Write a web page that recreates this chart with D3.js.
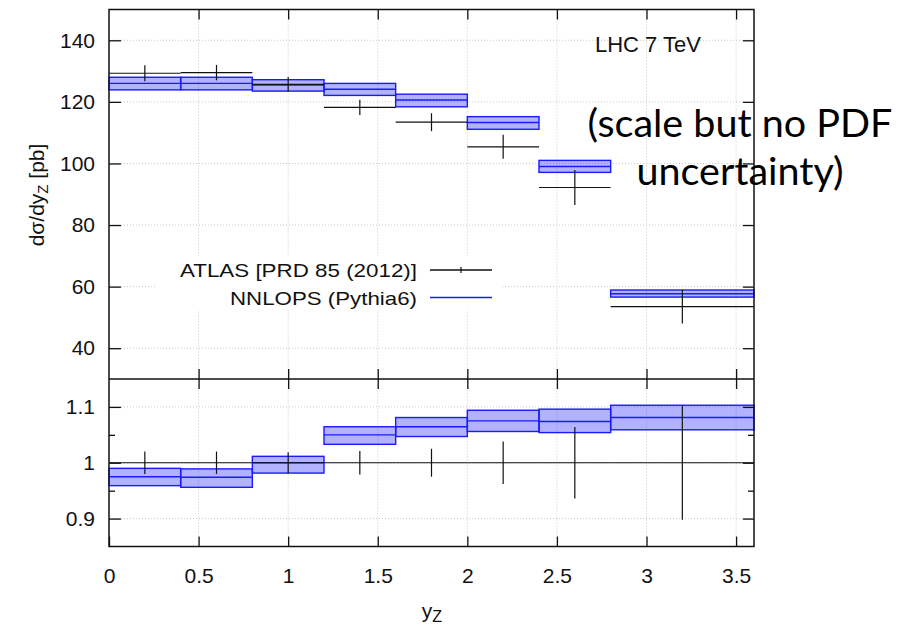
<!DOCTYPE html>
<html lang="en">
<head>
    <meta charset="UTF-8">
    <title>Z rapidity - NNLOPS vs ATLAS</title>
    <style>
        body {
            margin: 0;
            padding: 0;
            background: #fff;
        }
        .axis text {
            font-family: 'Liberation Sans', Arial, sans-serif;
            font-size: 21px;
            fill: #111;
        }
        .axis line {
            stroke: #111;
            stroke-width: 1.3;
        }
        .axis path {
            display: none;
        }
    </style>
</head>
<body>
    <div id="chart"></div>
    <script src="https://d3js.org/d3.v7.min.js"></script>
    <script>
        // bins in y_Z
        var binEdges = [0, 0.4, 0.8, 1.2, 1.6, 2.0, 2.4, 2.8, 3.6];
        var binCenters = [0.2, 0.6, 1.0, 1.4, 1.8, 2.2, 2.6, 3.2];

        // ATLAS data [pb]
        var atlasVal = [129.3, 129.5, 125.7, 118.2, 113.4, 105.4, 92.2, 53.5];
        var atlasErr = [2.6, 2.5, 2.4, 2.5, 2.9, 3.9, 5.7, 5.5];

        // NNLOPS (Pythia6) band [pb]
        var nnlopsCentral = [126.0, 126.0, 125.5, 124.1, 120.6, 113.3, 99.0, 57.7];
        var nnlopsLo = [123.9, 123.9, 123.5, 122.1, 118.4, 111.1, 97.1, 56.6];
        var nnlopsHi = [128.0, 128.0, 127.2, 126.0, 122.5, 115.2, 101.0, 58.9];

        // ratio to data
        var ratioCentral = [0.975, 0.974, 1.0, 1.050, 1.0645, 1.075, 1.074, 1.081];
        var ratioLo = [0.959, 0.956, 0.9815, 1.033, 1.047, 1.056, 1.054, 1.059];
        var ratioHi = [0.990, 0.989, 1.0115, 1.0645, 1.081, 1.094, 1.096, 1.103];
        var ratioErr = [0.020, 0.020, 0.019, 0.021, 0.025, 0.038, 0.064, 0.102];

        // tick values
        var xTicks = [0, 0.5, 1, 1.5, 2, 2.5, 3, 3.5];
        var yTopTicks = [40, 60, 80, 100, 120, 140];
        var yBotTicks = [0.9, 1, 1.1];
        var yBotMinor = [0.95, 1.05];

        var W = 924, H = 632;
        var left = 109, right = 754,
            top1 = 9.5, split = 379, bottom2 = 546.5;

        var font = "'Liberation Sans', Arial, sans-serif";
        var blue = "#1a1aff";

        var svg = d3.select("#chart")
            .append("svg")
            .attr("width", W)
            .attr("height", H);

        var x = d3.scaleLinear().domain([0, 3.6]).range([left, right]);
        var yTop = d3.scaleLinear().domain([30, 150]).range([split, top1]);
        var yBot = d3.scaleLinear().domain([0.85, 1.15]).range([bottom2, split]);

        // build bin rows
        var bins = binCenters.map(function(c, i) {
            return {
                x0: binEdges[i], x1: binEdges[i + 1], xc: c,
                val: atlasVal[i], err: atlasErr[i],
                mid: nnlopsCentral[i], lo: nnlopsLo[i], hi: nnlopsHi[i],
                rMid: ratioCentral[i], rLo: ratioLo[i], rHi: ratioHi[i], rErr: ratioErr[i]
            };
        });

        // grid
        var grid = svg.append("g")
            .attr("stroke", "#c4c4c4")
            .attr("stroke-width", 0.9)
            .attr("stroke-dasharray", "1,2");

        grid.selectAll(".gx")
            .data(xTicks.slice(1))
            .enter().append("line")
            .attr("x1", d => x(d)).attr("x2", d => x(d))
            .attr("y1", top1).attr("y2", bottom2);

        grid.selectAll(".gy1")
            .data(yTopTicks)
            .enter().append("line")
            .attr("x1", left).attr("x2", right)
            .attr("y1", d => yTop(d)).attr("y2", d => yTop(d));

        grid.selectAll(".gy2")
            .data(yBotTicks)
            .enter().append("line")
            .attr("x1", left).attr("x2", right)
            .attr("y1", d => yBot(d)).attr("y2", d => yBot(d));

        // legend background
        svg.append("rect")
            .attr("x", 157).attr("y", 256)
            .attr("width", 343).attr("height", 54)
            .attr("fill", "#fff");

        // NNLOPS bands
        function drawBand(g, yScale, loKey, hiKey, midKey) {
            g.selectAll(".band")
                .data(bins)
                .enter().append("rect")
                .attr("x", d => x(d.x0))
                .attr("y", d => yScale(d[hiKey]))
                .attr("width", d => x(d.x1) - x(d.x0))
                .attr("height", d => yScale(d[loKey]) - yScale(d[hiKey]))
                .attr("fill", "rgba(0,0,255,0.3)")
                .attr("stroke", blue)
                .attr("stroke-width", 1.4);

            g.selectAll(".mid")
                .data(bins)
                .enter().append("line")
                .attr("x1", d => x(d.x0)).attr("x2", d => x(d.x1))
                .attr("y1", d => yScale(d[midKey])).attr("y2", d => yScale(d[midKey]))
                .attr("stroke", blue)
                .attr("stroke-width", 1.4);
        }

        drawBand(svg.append("g"), yTop, "lo", "hi", "mid");
        drawBand(svg.append("g"), yBot, "rLo", "rHi", "rMid");

        // ATLAS points
        var data1 = svg.append("g").attr("stroke", "#111").attr("stroke-width", 1.2);
        data1.selectAll(".h")
            .data(bins)
            .enter().append("line")
            .attr("x1", d => x(d.x0)).attr("x2", d => x(d.x1))
            .attr("y1", d => yTop(d.val)).attr("y2", d => yTop(d.val));
        data1.selectAll(".v")
            .data(bins)
            .enter().append("line")
            .attr("x1", d => x(d.xc)).attr("x2", d => x(d.xc))
            .attr("y1", d => yTop(d.val + d.err)).attr("y2", d => yTop(d.val - d.err));

        var data2 = svg.append("g").attr("stroke", "#111").attr("stroke-width", 1.2);
        data2.selectAll(".h")
            .data(bins)
            .enter().append("line")
            .attr("x1", d => x(d.x0)).attr("x2", d => x(d.x1))
            .attr("y1", yBot(1)).attr("y2", yBot(1));
        data2.selectAll(".v")
            .data(bins)
            .enter().append("line")
            .attr("x1", d => x(d.xc)).attr("x2", d => x(d.xc))
            .attr("y1", d => yBot(1 + d.rErr)).attr("y2", d => yBot(1 - d.rErr));

        // axes - top panel
        svg.append("g").attr("class", "axis")
            .attr("transform", "translate(" + left + ",0)")
            .call(d3.axisLeft(yTop).tickValues(yTopTicks).tickSize(-12).tickPadding(14));
        svg.append("g").attr("class", "axis")
            .attr("transform", "translate(" + right + ",0)")
            .call(d3.axisRight(yTop).tickValues(yTopTicks).tickSize(-11).tickFormat(""));
        svg.append("g").attr("class", "axis")
            .attr("transform", "translate(0," + top1 + ")")
            .call(d3.axisTop(x).tickValues(xTicks.slice(1)).tickSize(-10).tickFormat(""));
        svg.append("g").attr("class", "axis")
            .attr("transform", "translate(0," + split + ")")
            .call(d3.axisBottom(x).tickValues(xTicks.slice(1)).tickSize(10).tickFormat(""))
            .selectAll("line").attr("y1", -10);

        // axes - ratio panel
        svg.append("g").attr("class", "axis")
            .attr("transform", "translate(" + left + ",0)")
            .call(d3.axisLeft(yBot).tickValues(yBotTicks).tickSize(-12).tickPadding(14)
                .tickFormat(d3.format("~g")));
        svg.append("g").attr("class", "axis")
            .attr("transform", "translate(" + left + ",0)")
            .call(d3.axisLeft(yBot).tickValues(yBotMinor).tickSize(-6).tickFormat(""));
        svg.append("g").attr("class", "axis")
            .attr("transform", "translate(" + right + ",0)")
            .call(d3.axisRight(yBot).tickValues(yBotTicks).tickSize(-11).tickFormat(""));
        svg.append("g").attr("class", "axis")
            .attr("transform", "translate(" + right + ",0)")
            .call(d3.axisRight(yBot).tickValues(yBotMinor).tickSize(-6).tickFormat(""));
        svg.append("g").attr("class", "axis")
            .attr("transform", "translate(0," + bottom2 + ")")
            .call(d3.axisBottom(x).tickValues(xTicks).tickSize(-10).tickPadding(22)
                .tickFormat(d3.format("~g")));

        // frames
        svg.append("rect")
            .attr("x", left).attr("y", top1)
            .attr("width", right - left).attr("height", bottom2 - top1)
            .attr("fill", "none").attr("stroke", "#111").attr("stroke-width", 1.5);
        svg.append("line")
            .attr("x1", left).attr("x2", right)
            .attr("y1", split).attr("y2", split)
            .attr("stroke", "#111").attr("stroke-width", 1.6);

        // legend
        var legend = [
            {label: "ATLAS [PRD 85 (2012)]", color: "#111", err: true, y: 277, ly: 270, len: 237},
            {label: "NNLOPS (Pythia6)", color: blue, err: false, y: 305, ly: 297.5, len: 187}
        ];
        var lg = svg.selectAll(".legend")
            .data(legend)
            .enter().append("g")
            .attr("class", "legend");
        lg.append("text")
            .attr("x", 417).attr("y", d => d.y)
            .attr("text-anchor", "end")
            .attr("textLength", d => d.len)
            .attr("lengthAdjust", "spacingAndGlyphs")
            .style("font-family", font)
            .style("font-size", "19px")
            .style("fill", "#111")
            .text(d => d.label);
        lg.append("line")
            .attr("x1", 430).attr("x2", 492)
            .attr("y1", d => d.ly).attr("y2", d => d.ly)
            .style("stroke", d => d.color)
            .style("stroke-width", 1.3);
        lg.filter(d => d.err).append("line")
            .attr("x1", 461).attr("x2", 461)
            .attr("y1", d => d.ly - 3).attr("y2", d => d.ly + 3)
            .style("stroke", "#111")
            .style("stroke-width", 1.2);

        // labels
        svg.append("text")
            .attr("x", 595).attr("y", 52)
            .style("font-family", font)
            .style("font-size", "22px")
            .style("fill", "#111")
            .text("LHC 7 TeV");

        var yl = svg.append("text")
            .attr("transform", "translate(44,195) rotate(-90)")
            .attr("text-anchor", "middle")
            .style("font-family", font)
            .style("font-size", "21px")
            .style("fill", "#111");
        yl.append("tspan").text("dσ/dy");
        yl.append("tspan").attr("dy", 4).style("font-size", "15px").text("Z");
        yl.append("tspan").attr("dy", -4).text(" [pb]");

        var xl = svg.append("text")
            .attr("x", 432).attr("y", 618)
            .attr("text-anchor", "middle")
            .style("font-family", font)
            .style("font-size", "21px")
            .style("fill", "#111");
        xl.append("tspan").text("y");
        xl.append("tspan").attr("dy", 4).style("font-size", "16px").text("Z");

        // overlay note
        var note = svg.append("text")
            .attr("text-anchor", "middle")
            .style("font-family", "Lato, 'Open Sans', sans-serif")
            .style("font-size", "39.5px")
            .style("fill", "#000");
        note.append("tspan").attr("x", 740).attr("y", 137).text("(scale but no PDF");
        note.append("tspan").attr("x", 740).attr("y", 185).text("uncertainty)");
    </script>
</body>
</html>
